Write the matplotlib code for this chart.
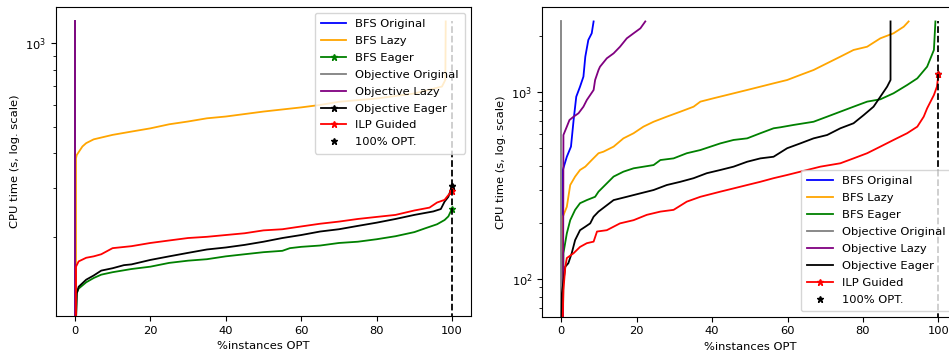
import matplotlib
matplotlib.use("Agg")
import matplotlib.pyplot as plt

plt.rcParams['font.family'] = ['DejaVu Sans']
plt.rcParams['font.size'] = 8.25

labels = ["BFS Original", "BFS Lazy", "BFS Eager", "Objective Original",
          "Objective Lazy", "Objective Eager", "ILP Guided"]
colors = ["blue", "orange", "green", "gray", "purple", "black", "red"]

# ---------------- left panel data ----------------
L_bfs_orig_x = [0, 0]
L_bfs_orig_y = [100, 1200]
L_bfs_lazy_x = [0.3, 0.3, 0.5, 2, 3, 5, 10, 15, 20, 25, 30, 35, 40, 50, 60, 65, 70, 80, 90, 97.3, 98.2, 98.3]
L_bfs_lazy_y = [100, 384, 395, 424, 436, 450, 467, 480, 493, 510, 522, 536, 544, 567, 587, 599, 615, 632, 659, 698, 738, 1200]
L_bfs_eager_x = [0.3, 0.5, 1, 3, 5, 7, 10, 15, 20, 25, 30, 35, 40, 45, 50, 55, 57, 60, 65, 70, 75, 80, 85, 90, 93, 96, 98, 99, 100]
L_bfs_eager_y = [100, 125, 130, 137, 142, 146, 149, 153, 156, 161, 164, 166, 170, 173, 176, 178, 182, 184, 186, 190, 192, 196, 201, 208, 215, 222, 230, 237, 253]
L_obj_orig_x = [0, 0]
L_obj_orig_y = [100, 1200]
L_obj_lazy_x = [0, 0]
L_obj_lazy_y = [100, 1200]
L_obj_eager_x = [0.3, 0.5, 1, 3, 5, 7, 10, 13, 15, 20, 25, 30, 35, 40, 45, 50, 55, 57, 60, 65, 70, 75, 80, 85, 90, 95, 97, 98, 99, 100]
L_obj_eager_y = [100, 125, 132, 140, 145, 151, 154, 158, 159, 165, 170, 175, 180, 183, 187, 192, 198, 200, 203, 209, 213, 219, 225, 232, 240, 247, 252, 268, 279, 306]
L_ilp_x = [0.3, 0.3, 1, 3, 5, 7, 10, 15, 20, 25, 30, 35, 40, 45, 50, 55, 60, 65, 70, 75, 80, 85, 90, 94, 96, 98, 99, 100]
L_ilp_y = [100, 156, 163, 168, 170, 173, 182, 185, 190, 194, 198, 200, 203, 206, 211, 213, 218, 223, 227, 232, 236, 240, 249, 255, 266, 272, 283, 294]
L_opt_x = [100, 100]
L_opt_y = [100, 1200]
L_opt_star = (100, 306)

# ---------------- right panel data ----------------
R_bfs_orig_x = [0.3, 0.45, 1.5, 2.6, 3.3, 4.0, 5.0, 5.9, 6.4, 7.2, 8.1, 8.6]
R_bfs_orig_y = [60, 383, 451, 511, 710, 947, 1072, 1213, 1553, 1909, 2073, 2400]
R_bfs_lazy_x = [0.45, 0.45, 1.5, 2.4, 3.7, 5.0, 6.4, 8.1, 9.9, 11.2, 13.9, 16.5, 19.2, 21.8, 24.5, 28.0, 31.6, 35.1, 36.9,
                40.4, 43.9, 49.3, 52.8, 56.3, 59.9, 63.4, 66.9, 70.5, 74.0, 77.5, 81.1, 84.6, 88.1, 90.8, 92.1]
R_bfs_lazy_y = [60, 215, 243, 318, 353, 383, 399, 433, 471, 480, 511, 566, 603, 654, 695, 740, 787, 837, 891,
                929, 967, 1029, 1072, 1117, 1164, 1239, 1317, 1432, 1553, 1687, 1756, 1948, 2073, 2249, 2400]
R_bfs_eager_x = [0.5, 0.6, 1.5, 2.4, 3.7, 5.0, 6.8, 9.0, 9.9, 13.9, 16.5, 19.2, 24.5, 26.3, 29.8, 33.3, 36.9, 42.2, 45.7,
                 49.3, 52.8, 56.3, 58.1, 61.6, 66.9, 70.5, 74.0, 77.5, 81.1, 84.6, 88.1, 91.7, 94.4, 97.0, 98.8, 99.2]
R_bfs_eager_y = [60, 137, 175, 206, 234, 254, 264, 275, 293, 353, 375, 391, 407, 433, 442, 471, 490, 532, 555,
                 566, 603, 641, 649, 668, 695, 740, 787, 837, 891, 917, 988, 1094, 1188, 1372, 1687, 2400]
R_obj_orig_x = [0, 0]
R_obj_orig_y = [60, 2400]
R_obj_lazy_x = [0.5, 0.6, 1.5, 2.2, 3.3, 4.6, 5.9, 6.8, 7.7, 8.6, 9.0, 9.9, 10.3, 12.1, 13.9, 15.6, 17.4, 19.2, 21.0, 22.3]
R_obj_lazy_y = [60, 590, 654, 710, 740, 772, 837, 909, 967, 1029, 1164, 1317, 1372, 1522, 1618, 1756, 1948, 2073, 2204, 2400]
R_obj_eager_x = [0.1, 0.2, 1.1, 1.9, 2.8, 3.7, 5.0, 6.4, 7.7, 8.6, 9.9, 13.9, 17.4, 21.0, 24.5, 28.0, 31.6, 35.1, 38.6,
                 42.2, 45.7, 49.3, 52.8, 56.3, 59.9, 63.4, 66.9, 70.5, 74.0, 77.5, 80.2, 82.8, 84.6, 86.4, 87.3, 87.3]
R_obj_eager_y = [60, 83.5, 116, 121, 137, 161, 182, 190, 198, 215, 229, 264, 275, 287, 299, 318, 331, 346, 368,
                 383, 399, 424, 442, 451, 501, 532, 566, 590, 641, 682, 755, 837, 947, 1072, 1164, 2400]
R_ilp_x = [0.4, 0.6, 1.1, 1.5, 3.3, 5.0, 6.8, 8.6, 9.5, 12.1, 15.6, 19.2, 22.7, 26.3, 29.8, 33.3, 36.9, 42.2, 45.7,
           49.3, 52.8, 56.3, 59.9, 63.4, 68.7, 74.0, 77.5, 81.1, 84.6, 88.1, 91.7, 94.4, 96.1, 97.0, 98.8, 99.6, 100]
R_ilp_y = [60, 87, 116, 129, 137, 148, 155, 158, 179, 182, 198, 206, 220, 229, 234, 259, 275, 293, 305,
           318, 331, 346, 360, 375, 399, 416, 442, 471, 511, 555, 603, 654, 740, 820, 967, 1072, 1254]
R_opt_x = [100, 100]
R_opt_y = [60, 2400]
R_opt_star = (100, 1254)

left_series = [(L_bfs_orig_x, L_bfs_orig_y), (L_bfs_lazy_x, L_bfs_lazy_y), (L_bfs_eager_x, L_bfs_eager_y),
               (L_obj_orig_x, L_obj_orig_y), (L_obj_lazy_x, L_obj_lazy_y), (L_obj_eager_x, L_obj_eager_y),
               (L_ilp_x, L_ilp_y)]
left_star = [False, False, True, False, False, True, True]
right_series = [(R_bfs_orig_x, R_bfs_orig_y), (R_bfs_lazy_x, R_bfs_lazy_y), (R_bfs_eager_x, R_bfs_eager_y),
                (R_obj_orig_x, R_obj_orig_y), (R_obj_lazy_x, R_obj_lazy_y), (R_obj_eager_x, R_obj_eager_y),
                (R_ilp_x, R_ilp_y)]
right_star = [False, False, False, False, False, False, True]

fig = plt.figure(figsize=(9.49, 3.58), dpi=100)
axL = fig.add_axes([56/949, 1 - 316/358, 415/949, 309/358])
axR = fig.add_axes([542.3/949, 1 - 316.7/358, 415/949, 309.4/358])

MS = 5


def draw(ax, series, stars, opt_x, opt_y, opt_star, ylim, legloc):
    for (xs, ys), lab, col, st in zip(series, labels, colors, stars):
        if st:
            ax.plot(xs, ys, color=col, lw=1.3, label=lab, marker='*', markersize=MS, markevery=[len(xs) - 1])
        else:
            ax.plot(xs, ys, color=col, lw=1.3, label=lab)
    ax.plot(opt_x, opt_y, 'k--', lw=1.3)
    ax.plot([opt_star[0]], [opt_star[1]], 'k*', markersize=MS, linestyle='None', label='100% OPT.', zorder=1)
    ax.set_yscale('log')
    ax.set_ylim(*ylim)
    ax.set_xlim(-5, 105)
    ax.set_xticks([0, 20, 40, 60, 80, 100])
    ax.set_xlabel('%instances OPT')
    ax.set_ylabel('CPU time (s, log. scale)')
    ax.legend(loc=legloc, fontsize=8.25, labelspacing=0.6, handlelength=2.2, borderpad=0.55)


draw(axL, left_series, left_star, L_opt_x, L_opt_y, L_opt_star, (103.5, 1353), 'upper right')
draw(axR, right_series, right_star, R_opt_x, R_opt_y, R_opt_star, (62.5, 2858), 'lower right')

fig.savefig('out.png', dpi=100)
